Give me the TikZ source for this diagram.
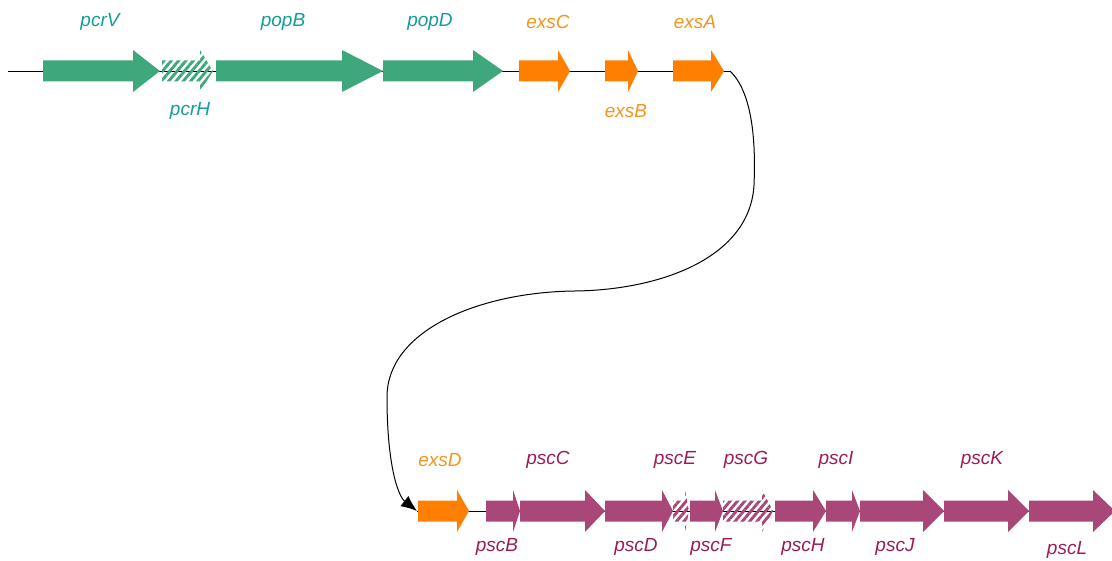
\documentclass[tikz,border=0pt]{standalone}
\usepackage{fontspec}
\setmainfont{Liberation Sans}
\usetikzlibrary{arrows.meta,patterns.meta}
\definecolor{pcrfill}{HTML}{3FA87A}
\definecolor{pcrtext}{HTML}{169A9A}
\definecolor{exsfill}{HTML}{FF7F00}
\definecolor{exstext}{HTML}{F7941D}
\definecolor{pscfill}{HTML}{A94878}
\definecolor{psctext}{HTML}{9B1B57}
\tikzset{
  genelabel/.style={font=\itshape\fontsize{19}{19}\selectfont,inner sep=0pt},
  hatched/.style={pattern={Lines[angle=50,distance=5.6pt,line width=2.9pt]},pattern color=#1},
  solid gene/.style={fill=#1},
}
% #1 fill style, #2 start, #3 head start, #4 tip, #5 axis
\newcommand{\genearrow}[5]{%
  \path[#1] (#2,#5-10.5) -- (#3,#5-10.5) -- (#3,#5-21) -- (#4,#5)
    -- (#3,#5+21) -- (#3,#5+10.5) -- (#2,#5+10.5) -- cycle;}
\begin{document}
\begin{tikzpicture}[x=1pt,y=-1pt,>=latex,line join=bevel]
\useasboundingbox (0,0) rectangle (1112,561);
%% upper cluster
\coordinate (line_w) at (8,71);
\coordinate (loop_s) at (730,71);
\draw[black,line width=0.8pt] (line_w) -- (loop_s);
\genearrow{solid gene=pcrfill}{43}{133}{160}{71}
\genearrow{hatched=pcrfill}{162}{200}{213}{71}
\genearrow{solid gene=pcrfill}{216}{342}{383}{71}
\genearrow{solid gene=pcrfill}{383}{473}{503}{71}
\genearrow{solid gene=exsfill}{519}{558}{570}{71}
\genearrow{solid gene=exsfill}{605}{628}{638}{71}
\genearrow{solid gene=exsfill}{673}{711}{724}{71}
\node (pcrV) at (100,22) [genelabel,text=pcrtext] {pcrV};
\node (pcrH) at (190,111) [genelabel,text=pcrtext] {pcrH};
\node (popB) at (283,22) [genelabel,text=pcrtext] {popB};
\node (popD) at (430,22) [genelabel,text=pcrtext] {popD};
\node (exsC) at (548,22) [genelabel,text=exstext] {exsC};
\node (exsB) at (626,111) [genelabel,text=exstext] {exsB};
\node (exsA) at (695,22) [genelabel,text=exstext] {exsA};
%% lower cluster
\coordinate (exsD_s) at (417,511);
\coordinate (line_e) at (1112,511);
\draw[black,line width=0.8pt] (exsD_s) -- (line_e);
\genearrow{solid gene=exsfill}{418}{457}{469}{511}
\genearrow{solid gene=pscfill}{486}{513}{520}{511}
\genearrow{solid gene=pscfill}{520}{585}{605}{511}
\genearrow{solid gene=pscfill}{605}{662}{673}{511}
\genearrow{hatched=pscfill}{673}{685}{689}{511}
\genearrow{solid gene=pscfill}{690}{715}{723}{511}
\genearrow{hatched=pscfill}{723}{762}{773}{511}
\genearrow{solid gene=pscfill}{775}{813}{826}{511}
\genearrow{solid gene=pscfill}{826}{852}{860}{511}
\genearrow{solid gene=pscfill}{860}{923}{944}{511}
\genearrow{solid gene=pscfill}{944}{1008}{1029}{511}
\genearrow{solid gene=pscfill}{1029}{1093}{1115}{511}
\node (exsD) at (440,460) [genelabel,text=exstext] {exsD};
\node (pscC) at (548,460) [genelabel,text=psctext] {pscC};
\node (pscE) at (675,460) [genelabel,text=psctext] {pscE};
\node (pscG) at (746,460) [genelabel,text=psctext] {pscG};
\node (pscI) at (836,460) [genelabel,text=psctext] {pscI};
\node (pscK) at (982,460) [genelabel,text=psctext] {pscK};
\node (pscB) at (497,547) [genelabel,text=psctext] {pscB};
\node (pscD) at (636,547) [genelabel,text=psctext] {pscD};
\node (pscF) at (711,547) [genelabel,text=psctext] {pscF};
\node (pscH) at (803,547) [genelabel,text=psctext] {pscH};
\node (pscJ) at (895,547) [genelabel,text=psctext] {pscJ};
\node (pscL) at (1067,550) [genelabel,text=psctext] {pscL};
%% loop joining the two rows
\draw [black,line width=1pt,-{Latex[length=16pt,width=13pt]}] (loop_s) ..controls (752,92) and (756,140) .. (754,185)
  ..controls (750,258) and (660,290) .. (575,291)
  ..controls (480,292) and (387,330) .. (387,397)
  ..controls (387,465) and (398,496) .. (exsD_s);
%
\end{tikzpicture}
\end{document}
